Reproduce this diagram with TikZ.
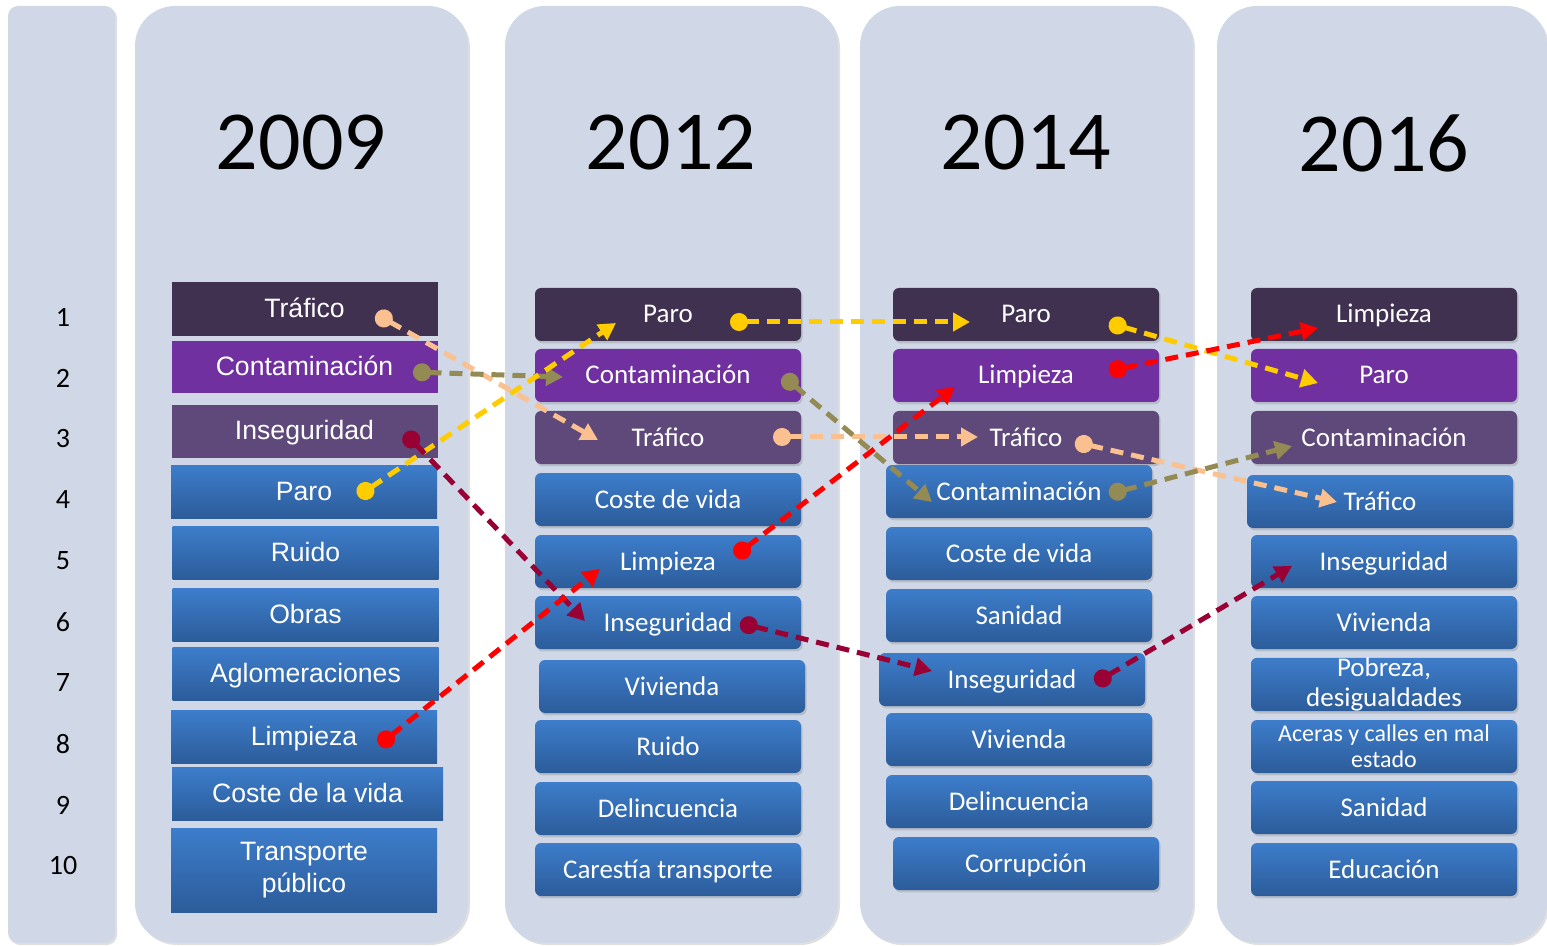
\documentclass[tikz,border=0pt]{standalone}
\usepackage{fontspec}
\setmainfont{Carlito}
\newfontfamily\arialfont{Liberation Sans}
\usetikzlibrary{arrows.meta,shadows}
\definecolor{panelbg}{HTML}{D0D8E7}
\definecolor{darkpurple}{HTML}{403151}
\definecolor{brightpurple}{HTML}{7030A0}
\definecolor{midpurple}{HTML}{5F497A}
\definecolor{bluetop}{HTML}{3D7DCB}
\definecolor{bluebottom}{HTML}{2C5C9A}
\definecolor{peach}{HTML}{FAC090}
\definecolor{olive}{HTML}{948A54}
\definecolor{gold}{HTML}{FFCC00}
\definecolor{wine}{HTML}{990033}
\definecolor{brightred}{HTML}{FF0000}

\begin{document}
\begin{tikzpicture}[x=0.5pt,y=-0.5pt,
  panel/.style={fill=panelbg,drop shadow={shadow xshift=1pt,shadow yshift=-1pt,opacity=0.25}},
  topic/.style={minimum width=133pt,minimum height=26.5pt,inner sep=0pt,text=white,align=center,
    text height=9.5pt,text depth=1pt,font=\fontsize{13.5}{15}\selectfont},
  twolines/.style={text height=,text depth=},
  old/.style={topic,font=\arialfont\fontsize{13.3}{16}\selectfont},
  new/.style={topic,rounded corners=3pt,drop shadow={shadow xshift=0.8pt,shadow yshift=-1.2pt,opacity=0.3}},
  blue/.style={top color=bluetop,bottom color=bluebottom},
  year/.style={font=\fontsize{42}{48}\selectfont},
  rank/.style={font=\fontsize{14}{16}\selectfont},
  link/.style={line width=2.5pt,dash pattern=on 6.5pt off 4pt,
    {Circle[length=9pt]}-{Triangle[length=8.5pt,width=9pt]}}]
  \useasboundingbox (0,0) rectangle (1547,946);

  \fill[panel,rounded corners=5pt]  (8,6)    rectangle (115,943);
  \fill[panel,rounded corners=20pt] (135,6)  rectangle (468,943);
  \fill[panel,rounded corners=20pt] (505,6)  rectangle (838,943);
  \fill[panel,rounded corners=20pt] (860,6)  rectangle (1193,943);
  \fill[panel,rounded corners=20pt] (1217,6) rectangle (1547,943);

  \node[year] (year 09) at (301,143)  {2009};
  \node[year] (year 12) at (671,143)  {2012};
  \node[year] (year 14) at (1026,143) {2014};
  \node[year] (year 16) at (1384,143) {2016};

  \node[rank] (rank 1)  at (63,317) {1};
  \node[rank] (rank 2)  at (63,378) {2};
  \node[rank] (rank 3)  at (63,439) {3};
  \node[rank] (rank 4)  at (63,500) {4};
  \node[rank] (rank 5)  at (63,561) {5};
  \node[rank] (rank 6)  at (63,622) {6};
  \node[rank] (rank 7)  at (63,683) {7};
  \node[rank] (rank 8)  at (63,744) {8};
  \node[rank] (rank 9)  at (63,805) {9};
  \node[rank] (rank 10) at (63,866) {10};

  \node[old,fill=darkpurple,minimum height=27pt] (trafico 09)  at (304.5,309)   {Tráfico};
  \node[old,fill=brightpurple,minimum height=26pt] (contaminacion 09) at (304.5,367) {Contaminación};
  \node[old,fill=midpurple]        (inseguridad 09)    at (304.5,431.5) {Inseguridad};
  \node[old,blue]                  (paro 09)           at (304,491.5)   {Paro};
  \node[old,blue]                  (ruido 09)          at (305.5,552.5) {Ruido};
  \node[old,blue]                  (obras 09)          at (305.5,615)   {Obras};
  \node[old,blue]                  (aglomeraciones 09) at (305.5,674)   {Aglomeraciones};
  \node[old,blue]                  (limpieza 09)       at (304,737)     {Limpieza};
  \node[old,blue,minimum width=135.5pt] (coste 09)     at (307.5,793.5) {Coste de la vida};
  \node[old,blue,twolines,minimum height=42pt] (transporte 09) at (304,870) {Transporte\\público};

  \node[new,fill=darkpurple]   (paro 12)          at (668,314.5) {Paro};
  \node[new,fill=brightpurple] (contaminacion 12) at (668,375.5) {Contaminación};
  \node[new,fill=midpurple]    (trafico 12)       at (668,437.5) {Tráfico};
  \node[new,blue]              (coste 12)         at (668,499.5) {Coste de vida};
  \node[new,blue]              (limpieza 12)      at (668,561.5) {Limpieza};
  \node[new,blue]              (inseguridad 12)   at (668,622.5) {Inseguridad};
  \node[new,blue]              (vivienda 12)      at (672,686.5) {Vivienda};
  \node[new,blue]              (ruido 12)         at (668,746.5) {Ruido};
  \node[new,blue]              (delincuencia 12)  at (668,808.5) {Delincuencia};
  \node[new,blue]              (carestia 12)      at (668,869.5) {Carestía transporte};

  \node[new,fill=darkpurple]   (paro 14)          at (1026,314.5) {Paro};
  \node[new,fill=brightpurple] (limpieza 14)      at (1026,375.5) {Limpieza};
  \node[new,fill=midpurple]    (trafico 14)       at (1026,437.5) {Tráfico};
  \node[new,blue]              (contaminacion 14) at (1019,491.5) {Contaminación};
  \node[new,blue]              (coste 14)         at (1019,553.5) {Coste de vida};
  \node[new,blue]              (sanidad 14)       at (1019,615.5) {Sanidad};
  \node[new,blue]              (inseguridad 14)   at (1012,679.5) {Inseguridad};
  \node[new,blue]              (vivienda 14)      at (1019,739.5) {Vivienda};
  \node[new,blue]              (delincuencia 14)  at (1019,801.5) {Delincuencia};
  \node[new,blue]              (corrupcion 14)    at (1026,863.5) {Corrupción};

  \node[new,fill=darkpurple]   (limpieza 16)      at (1384,314.5) {Limpieza};
  \node[new,fill=brightpurple] (paro 16)          at (1384,375.5) {Paro};
  \node[new,fill=midpurple]    (contaminacion 16) at (1384,437.5) {Contaminación};
  \node[new,blue]              (trafico 16)       at (1380,501.5) {Tráfico};
  \node[new,blue]              (inseguridad 16)   at (1384,561.5) {Inseguridad};
  \node[new,blue]              (vivienda 16)      at (1384,622.5) {Vivienda};
  \node[new,blue,twolines]     (pobreza 16)       at (1384,684.5) {Pobreza,\\desigualdades};
  \node[new,blue,twolines,font=\fontsize{12}{13}\selectfont] (aceras 16) at (1384,746.5) {Aceras y calles en mal\\estado};
  \node[new,blue]              (sanidad 16)       at (1384,807.5) {Sanidad};
  \node[new,blue]              (educacion 16)     at (1384,869.5) {Educación};

  \coordinate (trafico 09 dot)       at (376,314);
  \coordinate (trafico 12 tip)       at (598,440);
  \coordinate (trafico 12 dot)       at (773,437);
  \coordinate (trafico 14 tip)       at (978,437);
  \coordinate (trafico 14 dot)       at (1075,442);
  \coordinate (trafico 16 tip)       at (1337,502);
  \coordinate (contaminacion 09 dot) at (413,372);
  \coordinate (contaminacion 12 tip) at (563,377);
  \coordinate (contaminacion 12 dot) at (783,376);
  \coordinate (contaminacion 14 tip) at (932,502);
  \coordinate (contaminacion 14 dot) at (1109,494);
  \coordinate (contaminacion 16 tip) at (1292,446);
  \coordinate (paro 09 dot)          at (358,496);
  \coordinate (paro 12 tip)          at (616,323);
  \coordinate (paro 12 dot)          at (730,322);
  \coordinate (paro 14 tip)          at (970,322);
  \coordinate (paro 14 dot)          at (1109,323);
  \coordinate (paro 16 tip)          at (1318,383);
  \coordinate (inseguridad 09 dot)   at (405,433);
  \coordinate (inseguridad 12 tip)   at (585,621);
  \coordinate (inseguridad 12 dot)   at (740,623);
  \coordinate (inseguridad 14 tip)   at (932,671);
  \coordinate (inseguridad 14 dot)   at (1095,683);
  \coordinate (inseguridad 16 tip)   at (1292,566);
  \coordinate (limpieza 09 dot)      at (379,745);
  \coordinate (limpieza 12 tip)      at (600,569);
  \coordinate (limpieza 12 dot)      at (735,556);
  \coordinate (limpieza 14 tip)      at (955,387);
  \coordinate (limpieza 14 dot)      at (1109,371);
  \coordinate (limpieza 16 tip)      at (1318,328);

  \draw[link,peach] (trafico 09 dot) -- (trafico 12 tip);
  \draw[link,peach] (trafico 12 dot) -- (trafico 14 tip);
  \draw[link,peach] (trafico 14 dot) -- (trafico 16 tip);
  \draw[link,olive] (contaminacion 09 dot) -- (contaminacion 12 tip);
  \draw[link,olive] (contaminacion 12 dot) -- (contaminacion 14 tip);
  \draw[link,olive] (contaminacion 14 dot) -- (contaminacion 16 tip);
  \draw[link,gold] (paro 09 dot) -- (paro 12 tip);
  \draw[link,gold] (paro 12 dot) -- (paro 14 tip);
  \draw[link,gold] (paro 14 dot) -- (paro 16 tip);
  \draw[link,wine] (inseguridad 09 dot) -- (inseguridad 12 tip);
  \draw[link,wine] (inseguridad 12 dot) -- (inseguridad 14 tip);
  \draw[link,wine] (inseguridad 14 dot) -- (inseguridad 16 tip);
  \draw[link,brightred] (limpieza 09 dot) -- (limpieza 12 tip);
  \draw[link,brightred] (limpieza 12 dot) -- (limpieza 14 tip);
  \draw[link,brightred] (limpieza 14 dot) -- (limpieza 16 tip);
\end{tikzpicture}
\end{document}
